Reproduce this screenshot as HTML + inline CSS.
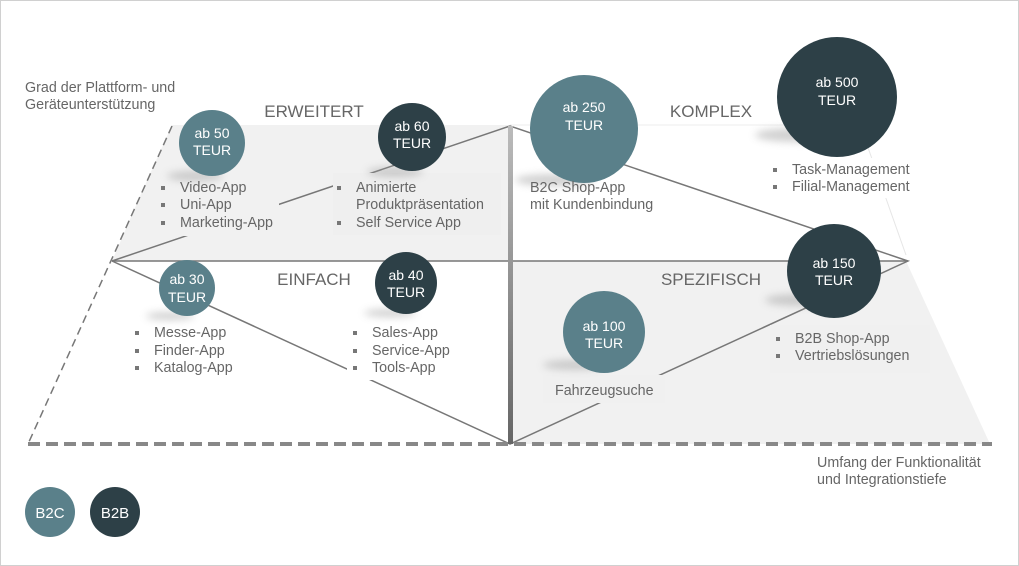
<!DOCTYPE html>
<html><head><meta charset="utf-8"><style>
body{margin:0;background:#fff}
svg{display:block;font-family:"Liberation Sans",sans-serif}
</style></head><body>
<svg width="1019" height="566" viewBox="0 0 1019 566" xmlns="http://www.w3.org/2000/svg">
<defs>
<linearGradient id="vg" x1="0" y1="0" x2="0" y2="1"><stop offset="0" stop-color="#bbb"/><stop offset="1" stop-color="#666"/></linearGradient>
<filter id="bl" x="-50%" y="-50%" width="200%" height="200%"><feGaussianBlur stdDeviation="4"/></filter>
</defs>
<rect x="0.5" y="0.5" width="1018" height="565" fill="#fff" stroke="#d0d0d0"/>
<polygon points="172,125 510,125 510,261 112,261 140,196" fill="#f1f1f1"/>
<polygon points="510,261 906,261 990,444 510,444" fill="#f1f1f1"/>
<line x1="860" y1="125" x2="906" y2="255" stroke="#e6e6e6"/>
<line x1="510" y1="125" x2="860" y2="125" stroke="#eee"/>
<g stroke="#777" stroke-width="1.5" fill="none">
<line x1="112" y1="261" x2="908" y2="261"/>
<polyline points="112,261 510,126 908,261 510,444 112,261"/>
</g>
<!-- text background boxes occluding lines -->
<rect x="155" y="176" width="124" height="60" fill="#f1f1f1"/>
<rect x="333" y="173" width="168" height="62" fill="#efefef"/>
<rect x="128" y="320" width="108" height="60" fill="#fff"/>
<rect x="347" y="318" width="112" height="62" fill="#fff"/>
<rect x="543" y="375" width="122" height="28" fill="#f0f0f0"/>
<rect x="770" y="325" width="160" height="48" fill="#f0f0f0"/>
<rect x="768" y="158" width="148" height="40" fill="#fff"/>
<rect x="508" y="126" width="5" height="318" fill="url(#vg)"/>
<line x1="172" y1="126" x2="28" y2="444" stroke="#777" stroke-width="1.5" stroke-dasharray="8,5"/>
<line x1="28" y1="444" x2="992" y2="444" stroke="#888" stroke-width="4" stroke-dasharray="12,6"/>
<g fill="#999" opacity="0.45" filter="url(#bl)">
<ellipse cx="195" cy="176" rx="28" ry="5"/>
<ellipse cx="395" cy="172" rx="28" ry="5"/>
<ellipse cx="170" cy="316" rx="24" ry="4"/>
<ellipse cx="390" cy="313" rx="26" ry="4"/>
<ellipse cx="555" cy="180" rx="40" ry="6"/>
<ellipse cx="800" cy="135" rx="45" ry="7"/>
<ellipse cx="800" cy="300" rx="35" ry="6"/>
<ellipse cx="575" cy="365" rx="32" ry="5"/>
</g>
<g fill="#5a808a"><circle cx="212" cy="143" r="33"/><circle cx="187" cy="288" r="28"/><circle cx="584" cy="129" r="54"/><circle cx="604" cy="332" r="41"/><circle cx="50" cy="512" r="25"/></g>
<g fill="#2d4047"><circle cx="412" cy="137" r="34"/><circle cx="406" cy="283" r="31"/><circle cx="837" cy="97" r="60"/><circle cx="834" cy="271" r="47"/><circle cx="115" cy="512" r="25"/></g>
<g fill="#fff" font-size="14" text-anchor="middle">
<text x="212" y="138">ab 50</text><text x="212" y="155">TEUR</text>
<text x="412" y="131">ab 60</text><text x="412" y="148">TEUR</text>
<text x="187" y="284">ab 30</text><text x="187" y="302">TEUR</text>
<text x="406" y="280">ab 40</text><text x="406" y="297">TEUR</text>
<text x="584" y="112">ab 250</text><text x="584" y="130">TEUR</text>
<text x="837" y="87">ab 500</text><text x="837" y="105">TEUR</text>
<text x="834" y="268">ab 150</text><text x="834" y="285">TEUR</text>
<text x="604" y="331">ab 100</text><text x="604" y="348">TEUR</text>
<text x="50" y="518" font-size="15">B2C</text><text x="115" y="518" font-size="15">B2B</text>
</g>
<g fill="#666" font-size="17" text-anchor="middle">
<text x="314" y="117">ERWEITERT</text>
<text x="314" y="285">EINFACH</text>
<text x="711" y="117">KOMPLEX</text>
<text x="711" y="285">SPEZIFISCH</text>
</g>
<g fill="#666" font-size="14.3">
<text x="25" y="92">Grad der Plattform- und</text>
<text x="25" y="109">Geräteunterstützung</text>
<text x="817" y="467">Umfang der Funktionalität</text>
<text x="817" y="484">und Integrationstiefe</text>
<text x="180" y="192">Video-App</text><text x="180" y="209">Uni-App</text><text x="180" y="227">Marketing-App</text>
<text x="356" y="192">Animierte</text><text x="356" y="209">Produktpräsentation</text><text x="356" y="227">Self Service App</text>
<text x="154" y="337">Messe-App</text><text x="154" y="355">Finder-App</text><text x="154" y="372">Katalog-App</text>
<text x="372" y="337">Sales-App</text><text x="372" y="355">Service-App</text><text x="372" y="372">Tools-App</text>
<text x="530" y="192">B2C Shop-App</text><text x="530" y="209">mit Kundenbindung</text>
<text x="792" y="174">Task-Management</text><text x="792" y="191">Filial-Management</text>
<text x="795" y="343">B2B Shop-App</text><text x="795" y="360">Vertriebslösungen</text>
<text x="555" y="395">Fahrzeugsuche</text>
</g>
<g fill="#777">
<rect x="161" y="186" width="4" height="4"/><rect x="161" y="203" width="4" height="4"/><rect x="161" y="221" width="4" height="4"/>
<rect x="337" y="186" width="4" height="4"/><rect x="337" y="221" width="4" height="4"/>
<rect x="135" y="331" width="4" height="4"/><rect x="135" y="349" width="4" height="4"/><rect x="135" y="366" width="4" height="4"/>
<rect x="353" y="331" width="4" height="4"/><rect x="353" y="349" width="4" height="4"/><rect x="353" y="366" width="4" height="4"/>
<rect x="773" y="168" width="4" height="4"/><rect x="773" y="185" width="4" height="4"/>
<rect x="776" y="337" width="4" height="4"/><rect x="776" y="354" width="4" height="4"/>
</g>
</svg>
</body></html>
